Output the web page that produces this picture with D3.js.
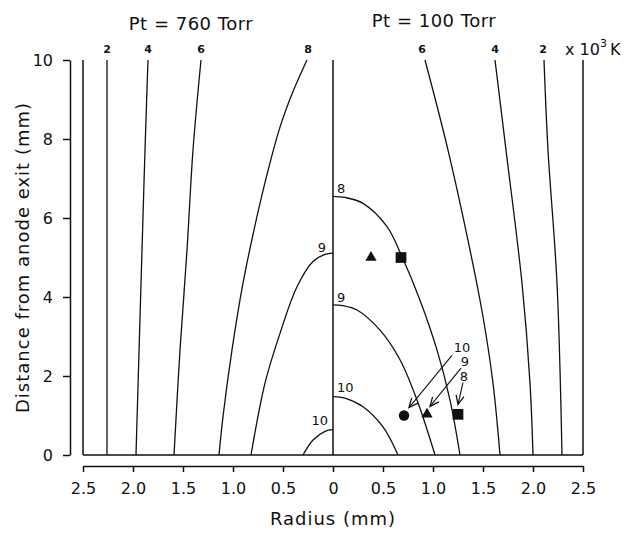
<!DOCTYPE html>
<html>
<head>
<meta charset="utf-8">
<script src="https://cdn.jsdelivr.net/npm/d3@7"></script>
<style>
  body { margin: 0; background: #fff; }
  svg text { font-family: "DejaVu Sans", sans-serif; fill: #111; }
</style>
</head>
<body>
<svg id="chart" width="625" height="534"></svg>
<script>
/* Isotherms of a plasma jet, two pressures side by side.
   Left half = 760 Torr (radius mirrored), right half = 100 Torr.
   Points are [radius mm, distance mm]. */

const xTicks = [-2.5, -2.0, -1.5, -1.0, -0.5, 0, 0.5, 1.0, 1.5, 2.0, 2.5];
const yTicks = [0, 2, 4, 6, 8, 10];

// 760 Torr isotherms (x 10^3 K)
const left2  = [[2.26, 0], [2.26, 5], [2.26, 10]];
const left4  = [[1.97, 0], [1.91, 5.19], [1.88, 7.72], [1.85, 10]];
const left6  = [[1.59, 0], [1.53, 2.66], [1.46, 5.19], [1.40, 7.72], [1.32, 10]];
const left8  = [[1.14, 0], [1.10, 0.97], [1.01, 2.66], [0.90, 4.35], [0.76, 6.04], [0.66, 7.1], [0.53, 8.3], [0.40, 9.2], [0.26, 10]];
const left9  = [[0.82, 0], [0.68, 1.82], [0.53, 3.08], [0.36, 4.26], [0.20, 4.90], [0.08, 5.08], [0, 5.11]];
const left10 = [[0.30, 0], [0.20, 0.38], [0.08, 0.60], [0, 0.64]];

// 100 Torr isotherms (x 10^3 K)
const right2  = [[2.29, 0], [2.24, 4.35], [2.15, 7.72], [2.11, 10]];
const right4  = [[2.00, 0], [1.97, 1.82], [1.89, 4.35], [1.73, 7.72], [1.62, 10]];
const right6  = [[1.67, 0], [1.60, 1.82], [1.50, 3.5], [1.37, 5.19], [1.15, 7.72], [0.92, 10]];
const right8  = [[1.27, 0], [1.17, 1.39], [1.04, 2.66], [0.87, 3.92], [0.69, 5.02], [0.54, 5.78], [0.30, 6.37], [0.12, 6.52], [0, 6.55]];
const right9  = [[1.02, 0], [0.84, 1.39], [0.67, 2.41], [0.47, 3.16], [0.24, 3.67], [0.10, 3.78], [0, 3.80]];
const right10 = [[0.65, 0], [0.50, 0.71], [0.30, 1.22], [0.12, 1.44], [0, 1.48]];

const leftContours  = [left2, left4, left6, left8, left9, left10];
const rightContours = [right2, right4, right6, right8, right9, right10];

// contour labels: [signed radius, distance, text]
const topLabels  = [[-2.26, "2"], [-1.85, "4"], [-1.32, "6"], [-0.25, "8"], [0.89, "6"], [1.62, "4"], [2.10, "2"]];
const innerLabels = [[0.04, 6.75, "8"], [0.04, 3.98, "9"], [-0.07, 5.26, "9"], [0.04, 1.72, "10"], [-0.05, 0.88, "10"]];

// measured points
const markers = [
  { shape: "triangle", r: 0.38, z: 5.0 },
  { shape: "square",   r: 0.68, z: 5.0 },
  { shape: "circle",   r: 0.71, z: 1.0 },
  { shape: "triangle", r: 0.94, z: 1.03 },
  { shape: "square",   r: 1.25, z: 1.03 }
];
const arrowLabels = [[1.29, 2.72, "10"], [1.32, 2.36, "9"], [1.31, 2.00, "8"]];
const arrows = [
  [[1.19, 2.52], [0.76, 1.20]],
  [[1.28, 2.20], [0.97, 1.23]],
  [[1.30, 1.83], [1.25, 1.28]]
];

/********* layout *********/
const svg = d3.select("#chart");
const x = d3.scaleLinear().domain([-2.5, 2.5]).range([83, 583]);
const y = d3.scaleLinear().domain([0, 10]).range([455, 60]);

const defs = svg.append("defs");
defs.append("marker")
  .attr("id", "arrowHead")
  .attr("markerUnits", "userSpaceOnUse")
  .attr("markerWidth", 12).attr("markerHeight", 12)
  .attr("refX", 9).attr("refY", 0)
  .attr("viewBox", "-1 -6 12 12")
  .attr("orient", "auto")
  .append("path")
    .attr("d", "M0,-4L9,0L0,4")
    .attr("fill", "none")
    .attr("stroke", "#111")
    .attr("stroke-width", 1.3);

/********* axes *********/
const yAxis = d3.axisLeft(y).tickValues(yTicks).tickSize(7).tickPadding(10).tickSizeOuter(0);
const gy = svg.append("g").attr("transform", "translate(70,0)").call(yAxis);

const xAxis = d3.axisBottom(x).tickValues(xTicks).tickSize(6).tickPadding(11).tickSizeOuter(0)
  .tickFormat(d => d === 0 ? "0" : Math.abs(d).toFixed(1));
const gx = svg.append("g").attr("transform", "translate(0,466)").call(xAxis);

[gx, gy].forEach(g => {
  g.selectAll("path, line").attr("stroke", "#111").attr("stroke-width", 1.5);
  g.selectAll("text").attr("font-size", 16).attr("fill", "#111")
    .attr("font-family", "\"DejaVu Sans\", sans-serif");
});

/********* frame *********/
const frame = svg.append("g").attr("stroke", "#111").attr("stroke-width", 1.5).attr("fill", "none");
frame.append("line").attr("x1", x(-2.5)).attr("x2", x(2.5)).attr("y1", y(0)).attr("y2", y(0));
[-2.5, 0, 2.5].forEach(v => {
  frame.append("line").attr("x1", x(v)).attr("x2", x(v)).attr("y1", y(0)).attr("y2", y(10));
});

/********* isotherms *********/
const line = d3.line().curve(d3.curveCatmullRom.alpha(0.5));
const cg = svg.append("g").attr("fill", "none").attr("stroke", "#111").attr("stroke-width", 1.3);
leftContours.forEach(c => {
  cg.append("path").attr("d", line(c.map(p => [x(-p[0]), y(p[1])])));
});
rightContours.forEach(c => {
  cg.append("path").attr("d", line(c.map(p => [x(p[0]), y(p[1])])));
});

svg.append("g").selectAll("text").data(topLabels).join("text")
  .attr("x", d => x(d[0])).attr("y", y(10.28))
  .attr("text-anchor", "middle").attr("dy", "0.35em")
  .attr("font-size", 11).attr("font-weight", "bold")
  .text(d => d[1]);

svg.append("g").selectAll("text").data(innerLabels).join("text")
  .attr("x", d => x(d[0])).attr("y", d => y(d[1]))
  .attr("text-anchor", d => d[0] < 0 ? "end" : "start").attr("dy", "0.35em")
  .attr("font-size", 13)
  .text(d => d[2]);

/********* measured points + arrows *********/
const symbolType = { triangle: d3.symbolTriangle, square: d3.symbolSquare, circle: d3.symbolCircle };
const symbolSize = { triangle: 55, square: 115, circle: 85 };
svg.append("g").selectAll("path").data(markers).join("path")
  .attr("transform", d => `translate(${x(d.r)},${y(d.z)})`)
  .attr("d", d => d3.symbol(symbolType[d.shape], symbolSize[d.shape])())
  .attr("fill", "#111");

svg.append("g").selectAll("line").data(arrows).join("line")
  .attr("x1", d => x(d[0][0])).attr("y1", d => y(d[0][1]))
  .attr("x2", d => x(d[1][0])).attr("y2", d => y(d[1][1]))
  .attr("stroke", "#111").attr("stroke-width", 1.1)
  .attr("marker-end", "url(#arrowHead)");

svg.append("g").selectAll("text").data(arrowLabels).join("text")
  .attr("x", d => x(d[0])).attr("y", d => y(d[1]))
  .attr("text-anchor", "middle").attr("dy", "0.35em")
  .attr("font-size", 13)
  .text(d => d[2]);

/********* titles *********/
svg.append("text").attr("x", 191).attr("y", 30).attr("text-anchor", "middle")
  .attr("font-size", 18).attr("letter-spacing", 0.5).text("Pt = 760 Torr");
svg.append("text").attr("x", 434).attr("y", 27).attr("text-anchor", "middle")
  .attr("font-size", 18).attr("letter-spacing", 0.5).text("Pt = 100 Torr");

const unit = svg.append("text").attr("x", 565).attr("y", 55).attr("font-size", 16);
unit.append("tspan").text("x 10");
unit.append("tspan").attr("dy", -8).attr("font-size", 11).text("3");
unit.append("tspan").attr("x", 610).attr("dy", 8).text("K");

svg.append("text").attr("x", x(0)).attr("y", 525).attr("text-anchor", "middle")
  .attr("font-size", 18).attr("letter-spacing", 1).text("Radius  (mm)");

svg.append("text")
  .attr("transform", `translate(29,${y(5)}) rotate(-90)`)
  .attr("text-anchor", "middle")
  .attr("font-size", 18).attr("letter-spacing", 1)
  .text("Distance from anode exit (mm)");
</script>
</body>
</html>
